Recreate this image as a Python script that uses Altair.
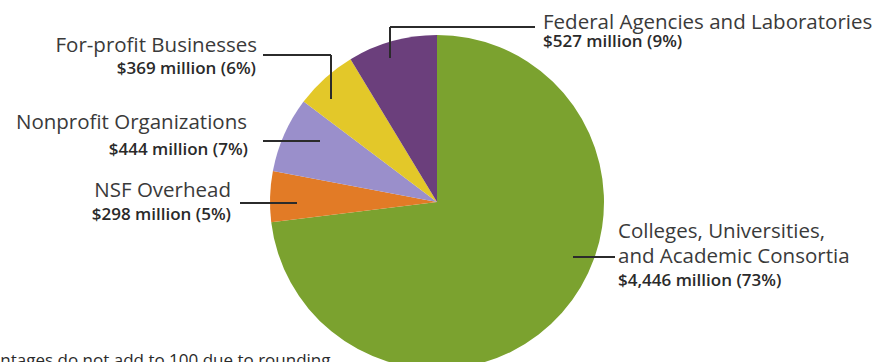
import altair as alt
import pandas as pd

# ---- data ----
categories = [
    "Colleges, Universities, and Academic Consortia",
    "NSF Overhead",
    "Nonprofit Organizations",
    "For-profit Businesses",
    "Federal Agencies and Laboratories",
]
values_million = [4446, 298, 444, 369, 527]
value_labels = ["$4,446 million (73%)", "$298 million (5%)", "$444 million (7%)",
                "$369 million (6%)", "$527 million (9%)"]
colors = ["#7ba22f", "#e27b26", "#9a8fcb", "#e3c829", "#6b3f7c"]
footnote = "Percentages do not add to 100 due to rounding."

pie_df = pd.DataFrame({
    "category": categories,
    "value": values_million,
    "order": list(range(len(categories))),
})

# ---- layout (pixel positions of annotations) ----
CX, CY, R = 437, 202, 167
FONT = "Open Sans"
TITLE_SIZE = 20.5
VALUE_SIZE = 17

# leader line segments: x, y, x2, y2
segments = pd.DataFrame([
    (390, 58, 390, 27), (390, 27, 535, 27),      # Federal
    (263, 55, 331, 55), (331, 55, 331, 99),      # For-profit
    (263, 141, 320, 141),                        # Nonprofit
    (240, 203, 297, 203),                        # NSF
    (573, 257, 615, 257),                        # Colleges
], columns=["x", "y", "x2", "y2"])

titles_right = pd.DataFrame({
    "t": ["For-profit Businesses", "Nonprofit Organizations", "NSF Overhead"],
    "x": [257, 247, 231], "y": [52, 129, 197]})
values_right = pd.DataFrame({
    "t": [value_labels[3], value_labels[2], value_labels[1]],
    "x": [256, 248, 231], "y": [74, 155, 220]})
titles_left = pd.DataFrame({
    "t": ["Federal Agencies and Laboratories", "Colleges, Universities,", "and Academic Consortia"],
    "x": [543, 618, 618], "y": [29, 238, 263]})
values_left = pd.DataFrame({
    "t": [value_labels[4], value_labels[0]],
    "x": [543, 618], "y": [47, 286]})
note_df = pd.DataFrame({"t": [footnote], "x": [335], "y": [366]})

pie = alt.Chart(pie_df).mark_arc(outerRadius=R).encode(
    theta=alt.Theta("value:Q", stack=True),
    order=alt.Order("order:Q"),
    color=alt.Color("category:N", scale=alt.Scale(domain=categories, range=colors), legend=None),
    x=alt.value(CX), y=alt.value(CY),
)

rules = alt.Chart(segments).mark_rule(color="#2b2b2b", strokeWidth=2).encode(
    x=alt.X("x:Q", scale=None), y=alt.Y("y:Q", scale=None),
    x2="x2:Q", y2="y2:Q",
)

def text_layer(df, align, size, weight, color):
    return alt.Chart(df).mark_text(
        align=align, baseline="alphabetic", font=FONT, fontSize=size,
        fontWeight=weight, color=color,
    ).encode(x=alt.X("x:Q", scale=None), y=alt.Y("y:Q", scale=None), text="t:N")

chart = alt.layer(
    pie, rules,
    text_layer(titles_right, "right", TITLE_SIZE, "normal", "#3a3a3a"),
    text_layer(values_right, "right", VALUE_SIZE, 600, "#2a2a2a"),
    text_layer(titles_left, "left", TITLE_SIZE, "normal", "#3a3a3a"),
    text_layer(values_left, "left", VALUE_SIZE, 600, "#2a2a2a"),
    text_layer(note_df, "right", 17, "normal", "#2a2a2a"),
).properties(
    width=878, height=362,
    autosize=alt.AutoSizeParams(type="none"),
    padding=0,
).configure_view(stroke=None)

chart.save("out.html", embed_options={"renderer": "svg", "actions": False})
